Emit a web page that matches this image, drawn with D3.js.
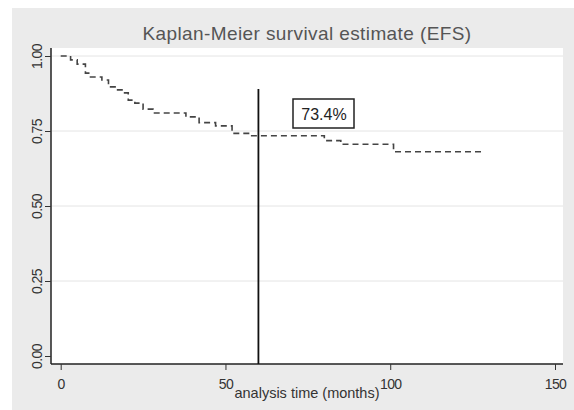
<!DOCTYPE html>
<html>
<head>
<meta charset="utf-8">
<script src="https://cdn.jsdelivr.net/npm/d3@7"></script>
<style>
  body { margin: 0; background: #fff; }
  text { font-family: "Liberation Sans", Arial, sans-serif; }
</style>
</head>
<body>
<div id="viz"></div>
<script>
// step times (months) and survival after each step
const stepTimes = [0, 3, 5, 7.5, 8.5, 12.5, 14.5, 16.5, 19, 20.5, 22.5, 25, 28, 38, 42, 47, 52, 57, 80, 85, 101];
const stepSurv  = [1.0, 0.987, 0.973, 0.943, 0.93, 0.92, 0.897, 0.887, 0.877, 0.853, 0.843, 0.823, 0.81, 0.797, 0.778, 0.767, 0.742, 0.734, 0.718, 0.706, 0.681];
const lastTime = 128.5;
const xTicks = [0, 50, 100, 150];
const yTicks = [0, 0.25, 0.5, 0.75, 1];
const markTime = 60;
const markLabel = "73.4%";
const title = "Kaplan-Meier survival estimate (EFS)";
const xTitle = "analysis time (months)";

const width = 574, height = 410;
const svg = d3.select("#viz").append("svg")
  .attr("width", width).attr("height", height);

// outer gray background
svg.append("rect")
  .attr("x", 12).attr("y", 8)
  .attr("width", width - 12).attr("height", height - 8)
  .style("fill", "#ebebeb");

// plot region
svg.append("rect")
  .attr("x", 51).attr("y", 48)
  .attr("width", 512).attr("height", 316)
  .style("fill", "#fff");

const x = d3.scaleLinear().domain([0, 150]).range([60.7, 555]);
const y = d3.scaleLinear().domain([0, 1]).range([356, 56]);

// gridlines
svg.append("g").selectAll("line")
  .data(yTicks.filter(d => d > 0))
  .join("line")
  .attr("x1", 52).attr("x2", 563)
  .attr("y1", d => y(d)).attr("y2", d => y(d))
  .style("stroke", "#e4e4e4")
  .style("stroke-width", 1);

// axes
const xAxis = svg.append("g")
  .attr("transform", "translate(0,364)")
  .call(d3.axisBottom(x).tickValues(xTicks).tickSize(6).tickPadding(9).tickFormat(d3.format("d")));
xAxis.select(".domain").attr("d", "M51,0H563").style("stroke", "#222").style("stroke-width", 1.5);
xAxis.selectAll(".tick line").style("stroke", "#333");
xAxis.selectAll(".tick text")
  .style("font-size", "14px").style("fill", "#333").style("letter-spacing", "-0.6px");

const yAxis = svg.append("g")
  .attr("transform", "translate(51,0)")
  .call(d3.axisLeft(y).tickValues(yTicks).tickSize(6).tickFormat(d3.format(".2f")));
yAxis.select(".domain").attr("d", "M0,48V364").style("stroke", "#222").style("stroke-width", 1.5);
yAxis.selectAll(".tick line").style("stroke", "#333");
// rotate each label about its own anchor
yAxis.selectAll(".tick text")
  .attr("x", 0).attr("y", 0).attr("dy", "0")
  .attr("transform", "translate(-9,0) rotate(-90)")
  .attr("text-anchor", "middle")
  .style("font-size", "14px").style("fill", "#333").style("letter-spacing", "-0.6px");

// KM step curve
const pts = stepTimes.map((t, i) => [t, stepSurv[i]]);
pts.push([lastTime, stepSurv[stepSurv.length - 1]]);
const line = d3.line()
  .x(d => x(d[0])).y(d => y(d[1]))
  .curve(d3.curveStepAfter);
svg.append("path")
  .attr("d", line(pts))
  .style("fill", "none")
  .style("stroke", "#444")
  .style("stroke-width", 1.6)
  .style("stroke-dasharray", "6,4");

// marker line at 60 months
svg.append("line")
  .attr("x1", x(markTime)).attr("x2", x(markTime))
  .attr("y1", 89).attr("y2", 364)
  .style("stroke", "#111").style("stroke-width", 1.8);

// label box
svg.append("rect")
  .attr("x", 293).attr("y", 99)
  .attr("width", 61).attr("height", 29)
  .style("fill", "#fff").style("stroke", "#222").style("stroke-width", 1.5);
svg.append("text")
  .attr("x", 324).attr("y", 119.5)
  .attr("text-anchor", "middle")
  .style("font-size", "16px").style("fill", "#222")
  .text(markLabel);

// titles
svg.append("text")
  .attr("x", 307).attr("y", 40)
  .attr("text-anchor", "middle")
  .style("font-size", "19px").style("fill", "#555").style("letter-spacing", "0.4px")
  .text(title);
svg.append("text")
  .attr("x", 307).attr("y", 398)
  .attr("text-anchor", "middle")
  .style("font-size", "14.5px").style("fill", "#333")
  .text(xTitle);
</script>
</body>
</html>
